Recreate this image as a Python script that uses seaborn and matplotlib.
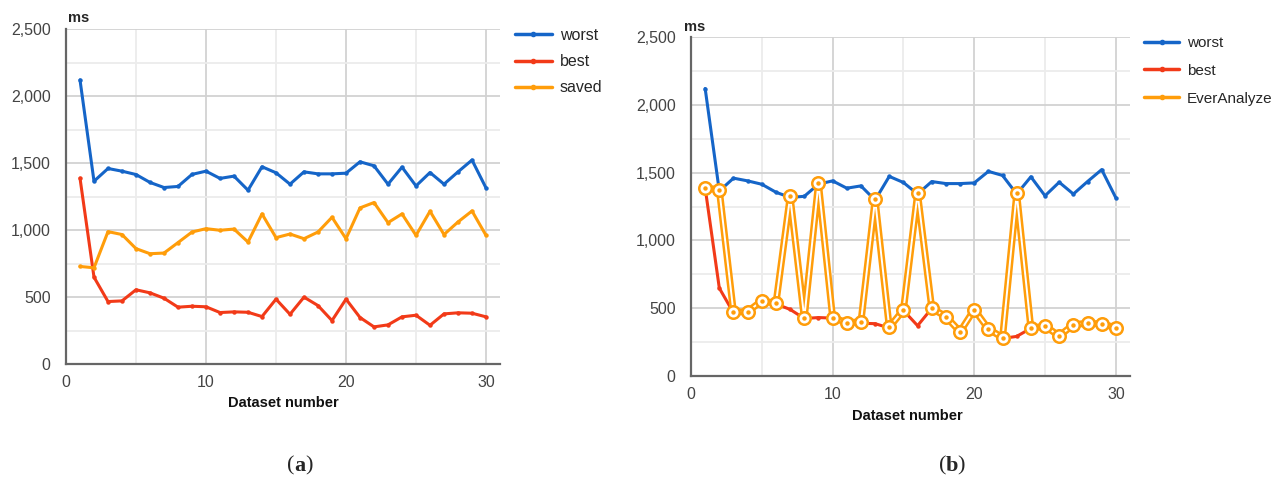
import matplotlib
matplotlib.use("Agg")
import matplotlib.pyplot as plt
from matplotlib.lines import Line2D
from matplotlib.ticker import FuncFormatter, MultipleLocator
import seaborn as sns
import pandas as pd

# ---------------- data ----------------
dataset = list(range(1, 31))
worst = [2120, 1364, 1459, 1439, 1414, 1355, 1317, 1325, 1415, 1439,
         1385, 1402, 1297, 1472, 1427, 1342, 1434, 1419, 1419, 1424,
         1509, 1479, 1342, 1469, 1329, 1429, 1342, 1434, 1522, 1314]
best = [1387, 648, 466, 471, 554, 531, 491, 424, 431, 427,
        384, 389, 386, 354, 484, 371, 499, 436, 324, 484,
        347, 277, 292, 352, 364, 289, 374, 382, 379, 352]
saved = [728, 718, 988, 966, 861, 823, 828, 906, 985, 1010,
         998, 1007, 910, 1120, 943, 970, 935, 985, 1095, 935,
         1165, 1205, 1055, 1120, 960, 1140, 966, 1060, 1142, 960]
ever_analyze = [1390, 1371, 470, 475, 554, 537, 1324, 428, 1422, 431,
                394, 399, 1304, 359, 487, 1346, 500, 438, 327, 490,
                347, 283, 1346, 352, 369, 295, 379, 389, 384, 357]
y_ticks = [0, 500, 1000, 1500, 2000, 2500]
x_ticks = [0, 10, 20, 30]
labels_a = ["worst", "best", "saved"]
labels_b = ["worst", "best", "EverAnalyze"]
captions = ["a", "b"]

BLUE = "#1565c8"
RED = "#f23a18"
ORANGE = "#ff9d0a"

sns.set_theme(style="white")
plt.rcParams["font.family"] = ["Liberation Sans", "DejaVu Sans"]

fig = plt.figure(figsize=(12.72, 4.8), dpi=100)
W, H = 1272, 480


def make_ax(l, t, r, b):
    return fig.add_axes([l / W, 1 - b / H, (r - l) / W, (b - t) / H])


ax1 = make_ax(66, 29, 500, 364)
ax2 = make_ax(691, 37, 1130, 376)

df_a = pd.DataFrame({
    "x": dataset * 3,
    "y": worst + best + saved,
    "s": [labels_a[0]] * 30 + [labels_a[1]] * 30 + [labels_a[2]] * 30,
})
df_b = pd.DataFrame({
    "x": dataset * 2,
    "y": worst + best,
    "s": [labels_b[0]] * 30 + [labels_b[1]] * 30,
})


def style_axes(ax):
    ax.set_xlim(0, 31)
    ax.set_ylim(0, 2500)
    ax.set_yticks(y_ticks)
    ax.set_xticks(x_ticks)
    ax.yaxis.set_minor_locator(MultipleLocator(250))
    ax.xaxis.set_minor_locator(MultipleLocator(5))
    ax.yaxis.set_major_formatter(FuncFormatter(lambda v, p: f"{int(v):,}"))
    ax.grid(which="major", color="#d2d2d2", lw=1.3)
    ax.grid(which="minor", color="#ececec", lw=1.3)
    ax.set_axisbelow(True)
    for s in ["top", "right"]:
        ax.spines[s].set_visible(False)
    for s in ["left", "bottom"]:
        ax.spines[s].set_color("#666666")
        ax.spines[s].set_linewidth(1.6)
    ax.tick_params(which="both", length=0)
    ax.tick_params(axis="y", pad=11, labelsize=11.5, labelcolor="#444444")
    ax.tick_params(axis="x", pad=8, labelsize=11.5, labelcolor="#444444")
    ax.set_xlabel("")
    ax.set_ylabel("")


pal_a = {labels_a[0]: BLUE, labels_a[1]: RED, labels_a[2]: ORANGE}
sns.lineplot(data=df_a, x="x", y="y", hue="s", palette=pal_a, ax=ax1,
             lw=2.2, marker="o", markersize=3.2, markeredgewidth=0,
             legend=False, zorder=3)
style_axes(ax1)

pal_b = {labels_b[0]: BLUE, labels_b[1]: RED}
sns.lineplot(data=df_b, x="x", y="y", hue="s", palette=pal_b, ax=ax2,
             lw=2.2, marker="o", markersize=3.2, markeredgewidth=0,
             legend=False, zorder=3)
# EverAnalyze: double (outlined) line with ring markers
sns.lineplot(x=dataset, y=ever_analyze, ax=ax2, color=ORANGE, lw=5.0,
             zorder=4, legend=False)
sns.lineplot(x=dataset, y=ever_analyze, ax=ax2, color="white", lw=1.4,
             zorder=5, legend=False)
ax2.plot(dataset, ever_analyze, ls="none", marker="o", markersize=9,
         markerfacecolor="white", markeredgecolor=ORANGE,
         markeredgewidth=1.8, zorder=6)
ax2.plot(dataset, ever_analyze, ls="none", marker="o", markersize=3.2,
         markerfacecolor=ORANGE, markeredgewidth=0, zorder=7)
style_axes(ax2)


def legend(ax, labels, x, y, fs, hl, sp):
    handles = [Line2D([0], [0], color=c, lw=2.5, marker="o", markersize=3)
               for c in (BLUE, RED, ORANGE)]
    ax.legend(handles, labels, loc="upper left",
              bbox_to_anchor=(x / W, 1 - y / H), bbox_transform=fig.transFigure,
              frameon=False, fontsize=fs, handlelength=hl,
              handletextpad=0.5, labelspacing=sp, borderaxespad=0,
              borderpad=0)


legend(ax1, labels_a, 515, 28, 11.5, 2.3, 0.7)
legend(ax2, labels_b, 1144, 36, 11, 2.3, 0.9)

# axis unit labels and x titles
fig.text(68 / W, 1 - 18 / H, "ms", fontsize=10.5, fontweight="bold",
         ha="left", va="center")
fig.text(684 / W, 1 - 27 / H, "ms", fontsize=10.5, fontweight="bold",
         ha="left", va="center")
fig.text(283 / W, 1 - 403 / H, "Dataset number", fontsize=10.5,
         fontweight="bold", ha="center", va="center", color="#111111")
fig.text(907 / W, 1 - 416 / H, "Dataset number", fontsize=10.5,
         fontweight="bold", ha="center", va="center", color="#111111")

# captions: "(a)" with bold letter in serif
serif = ["Liberation Serif", "DejaVu Serif"]
for cx, letter in zip((300, 952), captions):
    y = 1 - 466 / H
    fig.text(cx / W, y, letter, fontsize=16, fontweight="bold",
             ha="center", va="center", family=serif)
    fig.text((cx - 5.5) / W, y, "(", fontsize=16, ha="right", va="center",
             family=serif)
    fig.text((cx + 5.5) / W, y, ")", fontsize=16, ha="left", va="center",
             family=serif)

fig.savefig("out.png", dpi=100, facecolor="white")
